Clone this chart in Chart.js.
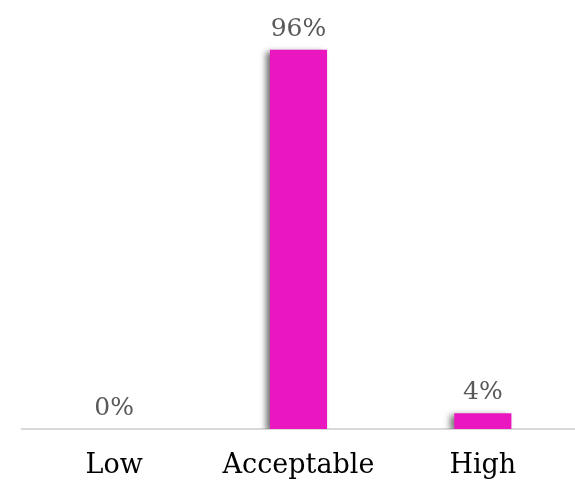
<!DOCTYPE html>
<html lang="en">

<head>
    <meta charset="UTF-8">
    <title>Levels</title>
    <script src="https://cdn.jsdelivr.net/npm/chart.js"></script>
    <style>
        body {
            margin: 0;
            background: #fff;
        }
        .container {
            width: 575px;
            height: 486px;
        }
    </style>
</head>

<body>
    <div class="container">
        <canvas id="grafico"></canvas>
    </div>
    <script>
        const categories = ['Low', 'Acceptable', 'High'];
        const percentages = [0, 96, 4];
        const barColor = '#EA17C0';

        // shadow on the bars
        const barShadow = {
            id: 'barShadow',
            beforeDatasetsDraw(chart) {
                const ctx = chart.ctx;
                ctx.save();
                ctx.shadowColor = 'rgba(0,0,0,0.55)';
                ctx.shadowBlur = 6;
                ctx.shadowOffsetX = -4;
                ctx.shadowOffsetY = 2;
            },
            afterDatasetsDraw(chart) {
                chart.ctx.restore();
            }
        };

        // value labels above the bars
        const valueLabels = {
            id: 'valueLabels',
            afterDatasetsDraw(chart) {
                const ctx = chart.ctx;
                const meta = chart.getDatasetMeta(0);
                ctx.save();
                ctx.font = '25px "DejaVu Serif", serif';
                ctx.fillStyle = '#595959';
                ctx.textAlign = 'center';
                ctx.textBaseline = 'bottom';
                meta.data.forEach((bar, i) => {
                    ctx.fillText(percentages[i] + '%', bar.x, bar.y - 8);
                });
                ctx.restore();
            }
        };

        const ctx = document.getElementById('grafico').getContext('2d');
        new Chart(ctx, {
            type: 'bar',
            data: {
                labels: categories,
                datasets: [{
                    data: percentages,
                    backgroundColor: barColor,
                    categoryPercentage: 1,
                    barPercentage: 0.31
                }]
            },
            options: {
                responsive: true,
                maintainAspectRatio: false,
                animation: false,
                layout: {
                    padding: { left: 22, right: 0, top: 34, bottom: 0 }
                },
                plugins: {
                    legend: { display: false },
                    tooltip: { enabled: false }
                },
                scales: {
                    x: {
                        grid: { display: false },
                        border: { display: true, color: '#d9d9d9', width: 2 },
                        ticks: {
                            color: '#000',
                            padding: 13,
                            font: { family: '"DejaVu Serif", serif', size: 27 }
                        },
                        afterFit(scale) {
                            scale.height = 57;
                        }
                    },
                    y: {
                        display: false,
                        min: 0,
                        max: 100
                    }
                }
            },
            plugins: [barShadow, valueLabels]
        });
    </script>
</body>

</html>
